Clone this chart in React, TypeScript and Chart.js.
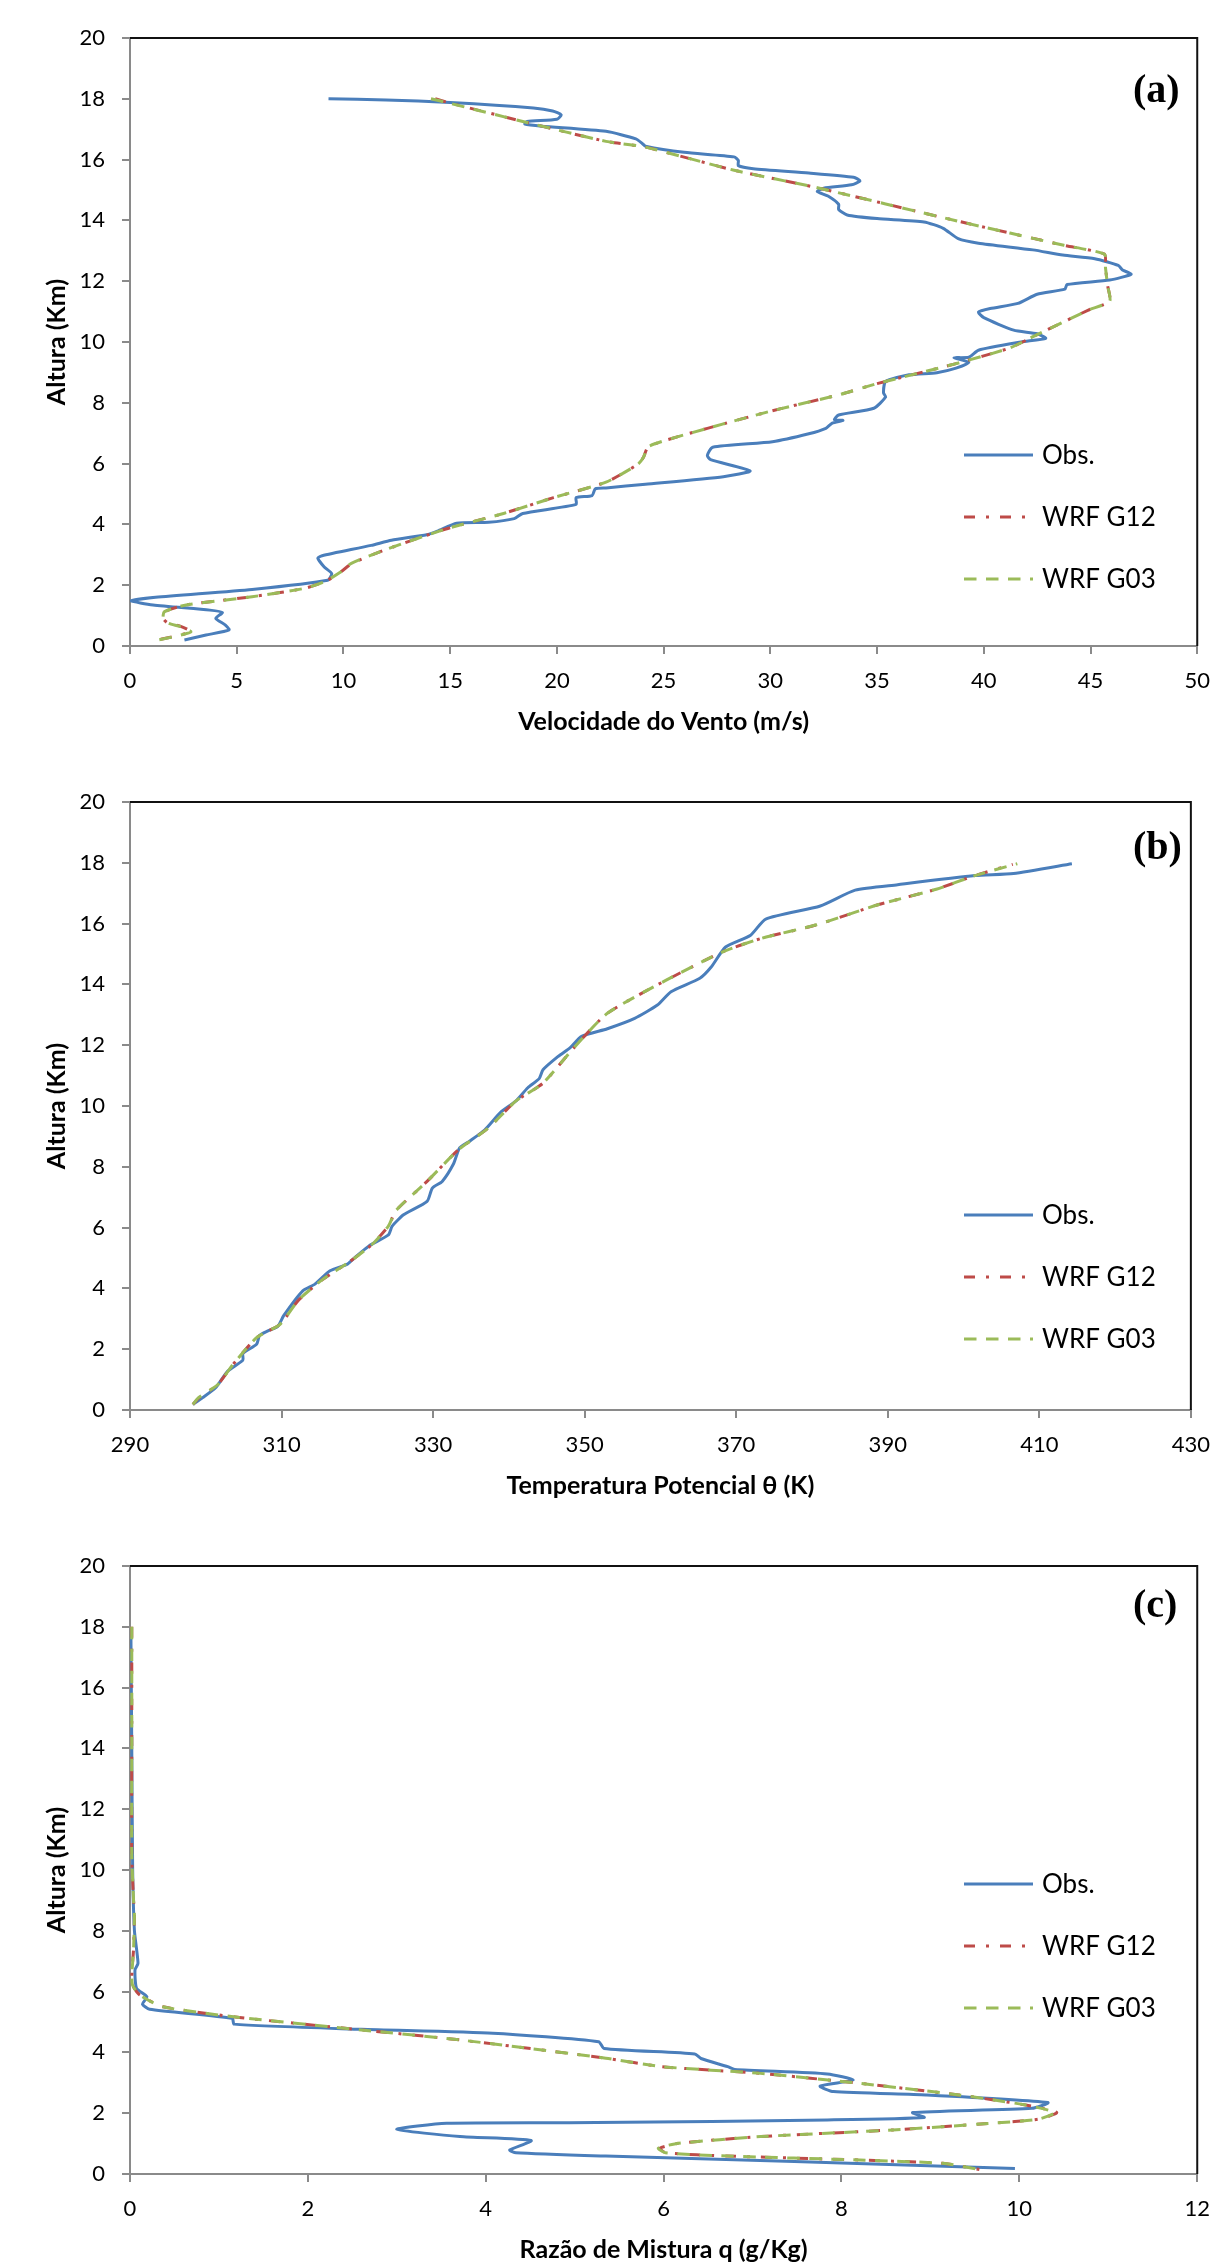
import React, { useEffect, useRef } from "react";
import { Chart, registerables } from "chart.js";

Chart.register(...registerables);

// ---------- Data (value, height km) ----------
const SERIES_LABELS = ["Obs.", "WRF G12", "WRF G03"];
const Y_AXIS = [0, 20, 2]; // min, max, step for Altura (Km)

// (a) Velocidade do Vento (m/s)
const WIND_AXIS = [0, 50, 5];
const WIND_OBS = [
  [9.3, 18.0], [12.0, 17.96], [15.0, 17.88], [18.9, 17.7], [19.8, 17.6], [20.2, 17.47], [20.0, 17.33],
  [18.6, 17.25], [18.5, 17.17], [19.3, 17.1], [22.3, 16.93], [23.7, 16.68], [24.0, 16.53], [24.15, 16.44],
  [25.96, 16.24], [28.3, 16.09], [28.5, 15.97], [28.5, 15.8], [29.2, 15.7], [31.8, 15.56], [33.9, 15.42],
  [34.2, 15.3], [33.8, 15.17], [32.5, 15.06], [32.2, 14.95], [32.7, 14.8], [33.2, 14.53], [33.2, 14.36],
  [33.6, 14.18], [35.0, 14.06], [37.2, 13.95], [38.1, 13.74], [38.8, 13.4], [39.75, 13.25], [42.3, 13.03],
  [43.7, 12.86], [45.2, 12.74], [46.3, 12.52], [46.5, 12.37], [46.9, 12.23], [45.9, 12.04], [43.9, 11.89],
  [43.8, 11.74], [42.5, 11.57], [41.6, 11.27], [40.3, 11.1], [39.75, 10.98], [40.0, 10.8], [41.4, 10.39],
  [42.5, 10.27], [42.9, 10.12], [41.75, 10.0], [39.75, 9.73], [39.3, 9.5], [38.6, 9.48], [39.3, 9.33],
  [38.7, 9.14], [37.8, 8.99], [36.5, 8.92], [35.4, 8.7], [35.3, 8.33], [35.4, 8.19], [34.85, 7.82],
  [33.2, 7.6], [33.0, 7.45], [33.4, 7.42], [32.9, 7.33], [32.6, 7.16], [31.8, 6.98], [30.1, 6.72],
  [27.3, 6.54], [27.05, 6.27], [27.2, 6.13], [29.05, 5.76], [27.8, 5.57], [24.15, 5.32], [22.3, 5.2],
  [21.8, 5.17], [21.65, 4.95], [20.9, 4.88], [20.9, 4.66], [18.4, 4.36], [18.0, 4.19], [16.8, 4.07],
  [15.3, 4.04], [14.4, 3.78], [13.9, 3.66], [12.25, 3.48], [11.3, 3.31], [9.0, 2.97], [8.8, 2.89],
  [9.1, 2.6], [9.45, 2.38], [9.26, 2.16], [5.72, 1.86], [1.2, 1.6], [0.05, 1.49], [1.08, 1.35],
  [3.74, 1.18], [4.33, 1.1], [4.02, 0.91], [4.47, 0.69], [4.64, 0.53], [3.56, 0.36], [2.55, 0.2],
];
const WIND_G12 = [
  [14.3, 18.0], [15.0, 17.86], [18.6, 17.22], [22.3, 16.6], [24.15, 16.41], [28.3, 15.65], [32.1, 15.09],
  [38.7, 13.99], [43.75, 13.18], [45.65, 12.89], [45.7, 12.45], [45.8, 11.86], [45.9, 11.34], [44.9, 11.05],
  [42.5, 10.24], [41.2, 9.8], [38.7, 9.29], [35.0, 8.63], [33.2, 8.26], [30.1, 7.74], [27.05, 7.16],
  [24.3, 6.57], [24.05, 6.2], [23.8, 5.98], [22.3, 5.39], [19.84, 4.88], [17.5, 4.36], [14.8, 3.85],
  [12.06, 3.19], [10.4, 2.72], [9.9, 2.45], [9.2, 2.14], [8.2, 1.9], [5.7, 1.62], [2.63, 1.35],
  [1.62, 1.13], [1.55, 0.91], [1.78, 0.75], [2.32, 0.66], [2.86, 0.47], [2.17, 0.33], [1.16, 0.18],
];
const WIND_G03 = [
  [14.1, 18.0], [15.0, 17.85], [18.6, 17.22], [22.3, 16.6], [24.15, 16.41], [28.3, 15.65], [32.1, 15.09],
  [38.7, 13.99], [43.75, 13.18], [45.65, 12.89], [45.7, 12.45], [45.8, 11.86], [45.9, 11.34], [44.9, 11.05],
  [42.5, 10.24], [41.2, 9.8], [38.7, 9.29], [35.0, 8.63], [33.2, 8.26], [30.1, 7.74], [27.05, 7.16],
  [24.3, 6.57], [24.05, 6.2], [23.8, 5.98], [22.3, 5.39], [19.84, 4.88], [17.5, 4.36], [14.8, 3.85],
  [12.06, 3.19], [10.37, 2.72], [9.9, 2.45], [9.13, 2.12], [8.2, 1.9], [5.72, 1.62], [2.63, 1.35],
  [1.62, 1.13], [1.55, 0.91], [1.8, 0.75], [2.35, 0.64], [2.86, 0.47], [2.2, 0.33], [1.2, 0.18],
];

// (b) Temperatura Potencial θ (K)
const THETA_AXIS = [290, 430, 20];
const THETA_OBS = [
  [298.3, 0.18], [299.55, 0.4], [301.3, 0.73], [302.9, 1.28], [304.9, 1.64], [304.9, 1.86], [306.7, 2.16],
  [307.1, 2.45], [308.2, 2.6], [309.5, 2.75], [310.3, 3.11], [312.8, 3.92], [314.4, 4.14], [316.4, 4.58],
  [318.7, 4.8], [319.7, 5.02], [321.5, 5.39], [324.1, 5.76], [324.6, 6.05], [326.1, 6.42], [329.2, 6.86],
  [329.9, 7.3], [331.2, 7.52], [332.7, 8.1], [333.5, 8.62], [334.8, 8.84], [336.8, 9.21], [338.9, 9.79],
  [340.9, 10.16], [342.5, 10.6], [344.0, 10.9], [344.5, 11.19], [346.5, 11.63], [348.1, 11.92],
  [349.6, 12.29], [353.0, 12.54], [356.6, 12.88], [359.6, 13.32], [361.4, 13.76], [365.2, 14.2],
  [366.7, 14.57], [368.6, 15.23], [371.9, 15.62], [373.9, 16.15], [381.1, 16.58], [385.7, 17.1],
  [391.3, 17.28], [401.5, 17.58], [406.6, 17.65], [414.3, 17.97],
];
const THETA_G12 = [
  [298.3, 0.18], [299.1, 0.4], [301.6, 0.84], [303.6, 1.5], [306.7, 2.38], [309.8, 2.82], [312.3, 3.63],
  [315.4, 4.29], [319.0, 4.88], [322.0, 5.46], [324.1, 6.05], [325.1, 6.56], [329.2, 7.52], [333.3, 8.55],
  [337.3, 9.28], [340.9, 10.16], [344.5, 10.75], [348.6, 11.92], [353.0, 13.05], [360.7, 14.13],
  [368.3, 15.08], [373.4, 15.52], [380.6, 15.96], [388.7, 16.62], [396.4, 17.13], [401.5, 17.58],
  [406.5, 17.95],
];
const THETA_G03 = [
  [298.3, 0.18], [299.0, 0.4], [301.6, 0.84], [303.6, 1.5], [306.7, 2.38], [309.8, 2.82], [312.3, 3.63],
  [315.4, 4.29], [319.0, 4.88], [322.0, 5.46], [324.1, 6.05], [325.1, 6.56], [329.2, 7.52], [333.3, 8.55],
  [337.3, 9.28], [340.9, 10.16], [344.5, 10.75], [348.6, 11.92], [353.0, 13.05], [360.7, 14.13],
  [368.3, 15.08], [373.4, 15.52], [380.6, 15.96], [388.7, 16.62], [396.4, 17.13], [401.5, 17.58],
  [407.1, 17.97],
];

// (c) Razão de Mistura q (g/Kg)
const Q_AXIS = [0, 12, 2];
const Q_OBS = [
  [0.01, 17.9], [0.02, 14.0], [0.03, 10.0], [0.05, 8.0], [0.09, 6.93], [0.056, 6.71], [0.074, 6.11],
  [0.19, 5.83], [0.14, 5.59], [0.22, 5.42], [1.15, 5.12], [1.17, 4.93], [2.6, 4.76], [4.08, 4.63],
  [5.27, 4.35], [5.33, 4.13], [6.35, 3.95], [6.42, 3.8], [6.72, 3.53], [6.8, 3.44], [7.84, 3.29],
  [8.13, 3.09], [7.76, 2.89], [7.91, 2.71], [8.95, 2.6], [10.32, 2.35], [10.14, 2.16], [8.8, 2.02],
  [8.93, 1.86], [7.84, 1.78], [5.24, 1.69], [3.56, 1.67], [3.0, 1.47], [3.71, 1.23], [4.51, 1.1],
  [4.27, 0.79], [4.34, 0.7], [5.35, 0.59], [7.47, 0.41], [9.95, 0.18],
];
const Q_G12 = [
  [0.02, 18.0], [0.02, 14.0], [0.02, 10.5], [0.04, 9.0], [0.05, 8.5], [0.04, 7.4], [0.02, 6.5],
  [0.03, 6.2], [0.11, 5.89], [0.37, 5.5], [1.23, 5.15], [2.6, 4.74], [3.71, 4.41], [5.35, 3.81],
  [5.98, 3.53], [7.09, 3.31], [8.21, 2.98], [9.32, 2.6], [10.07, 2.27], [10.42, 2.02], [10.21, 1.8],
  [9.69, 1.67], [8.58, 1.45], [7.09, 1.23], [6.17, 1.01], [5.96, 0.85], [6.02, 0.7], [6.72, 0.59],
  [8.21, 0.46], [9.14, 0.35], [9.55, 0.15],
];
const Q_G03 = [
  [0.02, 18.0], [0.02, 14.0], [0.02, 10.5], [0.04, 9.0], [0.05, 8.5], [0.04, 7.4], [0.02, 6.5],
  [0.03, 6.2], [0.11, 5.89], [0.37, 5.5], [1.23, 5.15], [2.6, 4.74], [3.71, 4.41], [5.35, 3.81],
  [5.98, 3.53], [7.09, 3.31], [8.21, 2.98], [9.32, 2.6], [10.07, 2.27], [10.4, 2.02], [10.21, 1.8],
  [9.69, 1.67], [8.58, 1.45], [7.09, 1.23], [6.17, 1.01], [5.94, 0.85], [6.02, 0.7], [6.72, 0.59],
  [8.21, 0.46], [9.14, 0.35], [9.55, 0.15],
];

// ---------- Styles ----------
const BLUE = "#4A7EBB";
const RED = "#BE4B48";
const GREEN = "#9BBB59";
const AXIS_GRAY = "#8A8A8A";
const FONT = "Lato";

const toXY = (arr: number[][]) => arr.map(([x, y]) => ({ x, y }));

const decoPlugin = {
  id: "deco",
  afterDraw(chart: any, _args: any, opts: any) {
    const { ctx, chartArea } = chart;
    const { left, right, top, bottom } = chartArea;
    ctx.save();
    // plot-area frame (top & right)
    ctx.strokeStyle = "#111";
    ctx.lineWidth = 2;
    ctx.setLineDash([]);
    ctx.beginPath();
    ctx.moveTo(left, top);
    ctx.lineTo(right, top);
    ctx.lineTo(right, bottom);
    ctx.stroke();
    // panel label
    ctx.fillStyle = "#000";
    ctx.font = "bold 40px 'Liberation Serif', 'Times New Roman', serif";
    ctx.textAlign = "left";
    ctx.textBaseline = "middle";
    ctx.fillText(opts.label, 1133, opts.labelY);
    // legend
    const ds = chart.data.datasets;
    ctx.font = `26px ${FONT}`;
    for (let i = 0; i < ds.length; i++) {
      const y = opts.legendY + i * 62;
      ctx.strokeStyle = ds[i].borderColor;
      ctx.lineWidth = 3;
      ctx.setLineDash(ds[i].borderDash || []);
      ctx.beginPath();
      ctx.moveTo(964, y);
      ctx.lineTo(1033, y);
      ctx.stroke();
      ctx.fillStyle = "#000";
      ctx.fillText(ds[i].label, 1042, y + 1);
    }
    ctx.restore();
  },
};

type PanelDef = {
  top: number;
  height: number;
  padTop: number;
  padRight: number;
  axis: number[];
  xTitle: string;
  series: number[][][];
  label: string;
  labelY: number;
  legendY: number;
};

const PANELS: PanelDef[] = [
  {
    top: 0, height: 746, padTop: 38, padRight: 17, axis: WIND_AXIS,
    xTitle: "Velocidade do Vento (m/s)", series: [WIND_OBS, WIND_G12, WIND_G03],
    label: "(a)", labelY: 92, legendY: 455,
  },
  {
    top: 760, height: 750, padTop: 42, padRight: 24, axis: THETA_AXIS,
    xTitle: "Temperatura Potencial θ (K)", series: [THETA_OBS, THETA_G12, THETA_G03],
    label: "(b)", labelY: 89, legendY: 455,
  },
  {
    top: 1520, height: 754, padTop: 46, padRight: 17, axis: Q_AXIS,
    xTitle: "Razão de Mistura q (g/Kg)", series: [Q_OBS, Q_G12, Q_G03],
    label: "(c)", labelY: 87, legendY: 364,
  },
];

function makeConfig(p: PanelDef): any {
  const tickFont = { family: FONT, size: 22 };
  const titleFont = { family: FONT, size: 25, weight: "bold" };
  const grid = {
    drawOnChartArea: false,
    drawTicks: true,
    tickLength: 8,
    color: AXIS_GRAY,
    lineWidth: 2,
  };
  const border = { display: true, color: AXIS_GRAY, width: 2 };
  const common = { showLine: true, pointRadius: 0, pointHoverRadius: 0, borderWidth: 3, fill: false, tension: 0.2 };
  return {
    type: "scatter",
    data: {
      datasets: [
        { ...common, label: SERIES_LABELS[0], data: toXY(p.series[0]), borderColor: BLUE, order: 3 },
        { ...common, label: SERIES_LABELS[1], data: toXY(p.series[1]), borderColor: RED, borderDash: [11, 11, 3, 11], order: 2 },
        { ...common, label: SERIES_LABELS[2], data: toXY(p.series[2]), borderColor: GREEN, borderDash: [12.5, 9.5], order: 1 },
      ],
    },
    options: {
      responsive: false,
      animation: false,
      devicePixelRatio: 1,
      events: [],
      layout: { padding: { top: p.padTop, right: p.padRight, left: 0, bottom: 0 } },
      plugins: {
        legend: { display: false },
        tooltip: { enabled: false },
        deco: { label: p.label, labelY: p.labelY, legendY: p.legendY },
      },
      scales: {
        x: {
          type: "linear",
          position: "bottom",
          min: p.axis[0],
          max: p.axis[1],
          ticks: {
            stepSize: p.axis[2],
            padding: 14,
            color: "#000",
            font: tickFont,
            autoSkip: false,
            maxRotation: 0,
            callback: (v: any) => String(v),
          },
          grid,
          border,
          title: { display: true, text: p.xTitle, color: "#000", font: titleFont, padding: { top: 0, bottom: 9 } },
          afterFit: (s: any) => { s.height = 100; },
        },
        y: {
          type: "linear",
          position: "left",
          min: Y_AXIS[0],
          max: Y_AXIS[1],
          ticks: {
            stepSize: Y_AXIS[2],
            padding: 17,
            color: "#000",
            font: tickFont,
            autoSkip: false,
            callback: (v: any) => String(v),
          },
          grid,
          border,
          title: { display: true, text: "Altura (Km)", color: "#000", font: titleFont, padding: { top: 42, bottom: 0 } },
          afterFit: (s: any) => { s.width = 130; },
        },
      },
    },
    plugins: [decoPlugin],
  };
}

function Panel({ p }: { p: PanelDef }) {
  const ref = useRef<HTMLCanvasElement | null>(null);
  useEffect(() => {
    if (!ref.current) return;
    const chart = new Chart(ref.current, makeConfig(p));
    return () => chart.destroy();
  }, [p]);
  return (
    <canvas
      ref={ref}
      width={1224}
      height={p.height}
      style={{ position: "absolute", left: 0, top: p.top, display: "block" }}
    />
  );
}

export default function App() {
  return (
    <div
      style={{
        position: "absolute",
        left: 0,
        top: 0,
        width: 1224,
        height: 2262,
        overflow: "hidden",
        background: "#fff",
      }}
    >
      {PANELS.map((p, i) => (
        <Panel key={i} p={p} />
      ))}
    </div>
  );
}
